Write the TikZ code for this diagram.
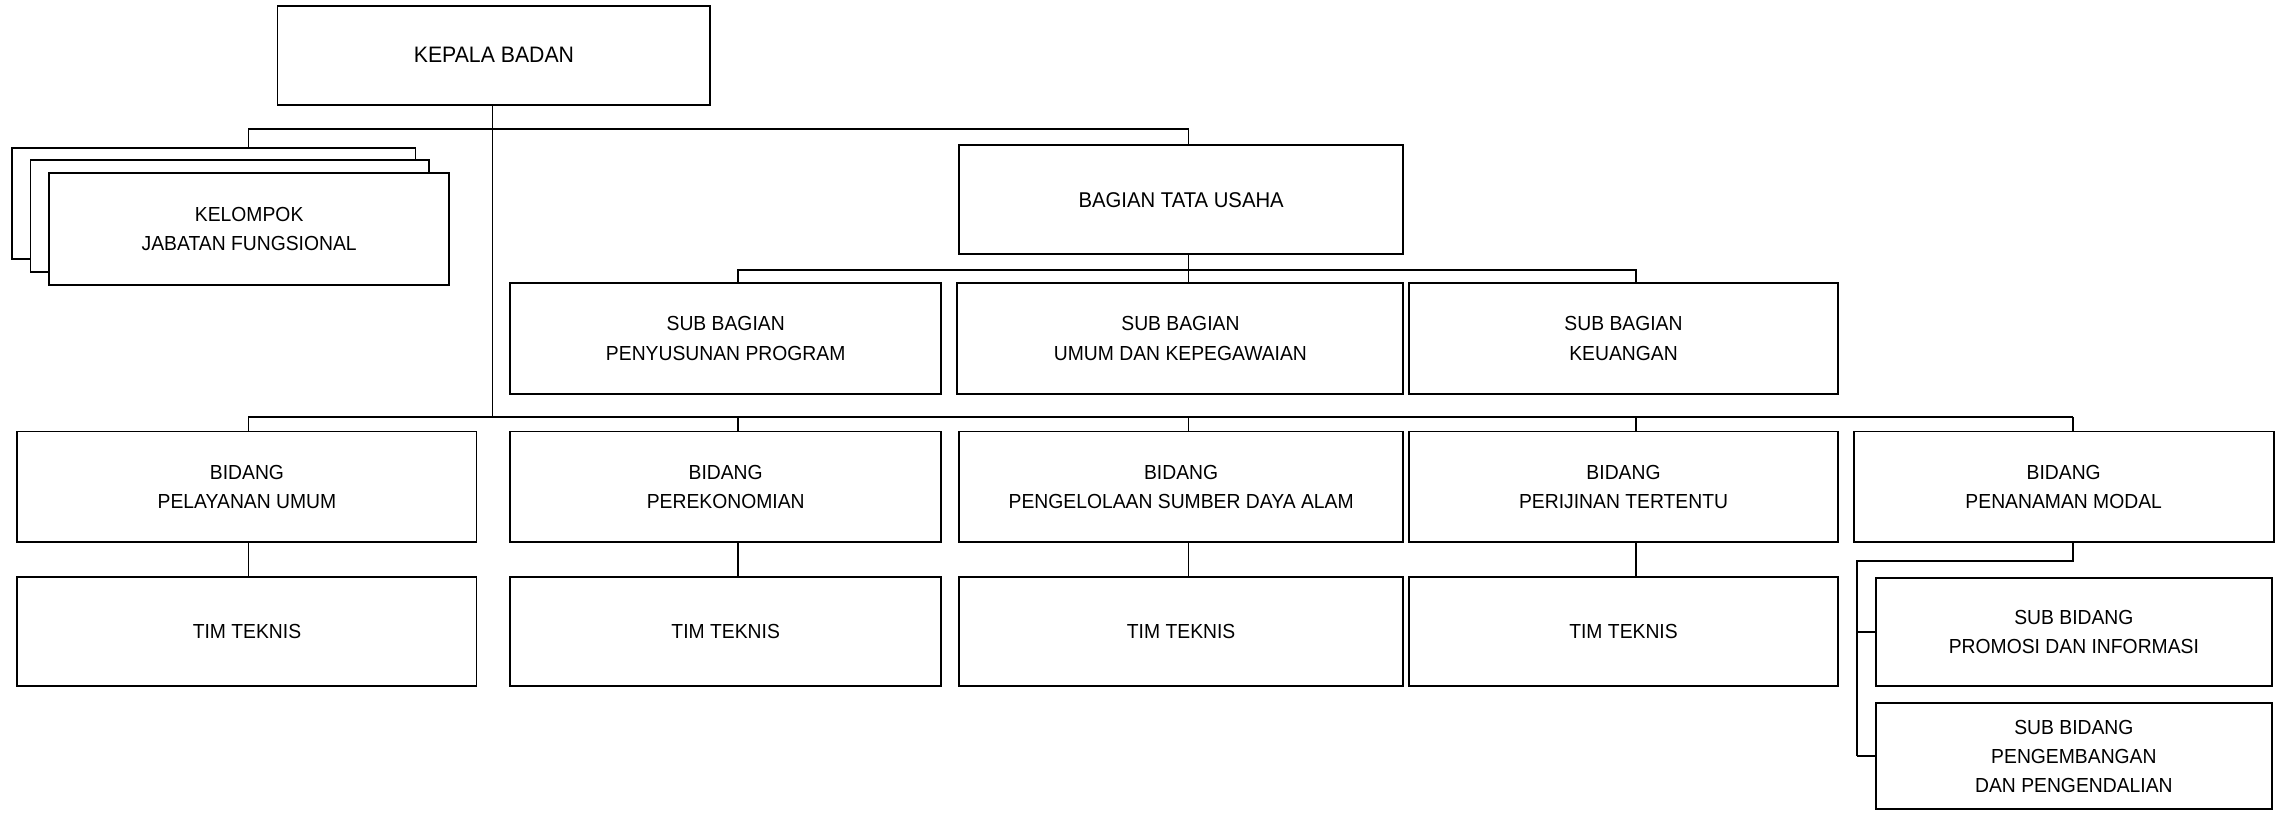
\documentclass[tikz,border=0pt]{standalone}
\usepackage{fontspec}
\setmainfont{Liberation Sans}[FakeStretch=0.95]
\begin{document}
\begin{tikzpicture}[x=1pt,y=-1pt,
  box/.style={draw, line width=1.3pt, fill=white, rectangle, inner sep=0pt, align=center,
    font=\fontsize{14}{20}\selectfont},
  conn/.style={line width=1.25pt}]
\useasboundingbox[fill=white] (0,0) rectangle (1568,559);

% top
\node[box, minimum width=298, minimum height=68, font=\fontsize{15.4}{20}\selectfont] (kepala) at (340,38) {KEPALA BADAN};

% kelompok jabatan fungsional (stacked)
\node[box, minimum width=278, minimum height=76] (kf1) at (147,140) {};
\node[box, minimum width=274, minimum height=77] (kf2) at (158,148.5) {};
\node[box, minimum width=275, minimum height=77] (kf3) at (171.5,157.5) {KELOMPOK\\JABATAN FUNGSIONAL};

% tata usaha
\node[box, minimum width=306, minimum height=75, font=\fontsize{14.7}{20}\selectfont] (tu) at (813,137.5) {BAGIAN TATA USAHA};

\node[box, minimum width=297, minimum height=76] (sb1) at (499.5,233) {SUB BAGIAN\\PENYUSUNAN PROGRAM};
\node[box, minimum width=307, minimum height=76] (sb2) at (812.5,233) {SUB BAGIAN\\UMUM DAN KEPEGAWAIAN};
\node[box, minimum width=295, minimum height=76] (sb3) at (1117.5,233) {SUB BAGIAN\\KEUANGAN};

% bidang
\node[box, minimum width=316, minimum height=76] (b1) at (170,335) {BIDANG\\PELAYANAN UMUM};
\node[box, minimum width=297, minimum height=76] (b2) at (499.5,335) {BIDANG\\PEREKONOMIAN};
\node[box, minimum width=306, minimum height=76] (b3) at (813,335) {BIDANG\\PENGELOLAAN SUMBER DAYA ALAM};
\node[box, minimum width=295, minimum height=76] (b4) at (1117.5,335) {BIDANG\\PERIJINAN TERTENTU};
\node[box, minimum width=289, minimum height=76] (b5) at (1420.5,335) {BIDANG\\PENANAMAN MODAL};

% tim teknis
\node[box, minimum width=316, minimum height=75] (t1) at (170,434.5) {TIM TEKNIS};
\node[box, minimum width=297, minimum height=75] (t2) at (499.5,434.5) {TIM TEKNIS};
\node[box, minimum width=306, minimum height=75] (t3) at (813,434.5) {TIM TEKNIS};
\node[box, minimum width=295, minimum height=75] (t4) at (1117.5,434.5) {TIM TEKNIS};

% sub bidang
\node[box, minimum width=273, minimum height=74] (sbp) at (1427.5,435) {SUB BIDANG\\PROMOSI DAN INFORMASI};
\node[box, minimum width=273, minimum height=73] (sbk) at (1427.5,520.5) {SUB BIDANG\\PENGEMBANGAN\\DAN PENGENDALIAN};

% junction coordinates
\coordinate (j1a) at (171,89);
\coordinate (j1b) at (818,89);
\coordinate (j2a) at (508,186);
\coordinate (j2b) at (818,186);
\coordinate (j2c) at (1126,186);
\coordinate (j3a) at (171,287);
\coordinate (j3b) at (508,287);
\coordinate (j3c) at (818,287);
\coordinate (j3d) at (1126,287);
\coordinate (j3e) at (1427,287);
\coordinate (j4a) at (1427,386);
\coordinate (j4b) at (1278,386);
\coordinate (jk) at (339,287);

% connectors
\draw[conn] (kepala.south -| jk) -- (jk);
\draw[conn] (kf1.north -| j1a) -- (j1a) -- (j1b) -- (tu.north -| j1b);
\draw[conn] (tu.south -| j2b) -- (j2b);
\draw[conn] (sb1.north -| j2a) -- (j2a) -- (j2c) -- (sb3.north -| j2c);
\draw[conn] (j2b) -- (sb2.north -| j2b);
\draw[conn] (j3a) -- (j3e);
\draw[conn] (j3a) -- (b1.north -| j3a);
\draw[conn] (j3b) -- (b2.north -| j3b);
\draw[conn] (j3c) -- (b3.north -| j3c);
\draw[conn] (j3d) -- (b4.north -| j3d);
\draw[conn] (j3e) -- (b5.north -| j3e);
\draw[conn] (b1.south -| j3a) -- (t1.north -| j3a);
\draw[conn] (b2.south -| j3b) -- (t2.north -| j3b);
\draw[conn] (b3.south -| j3c) -- (t3.north -| j3c);
\draw[conn] (b4.south -| j3d) -- (t4.north -| j3d);
\draw[conn] (b5.south -| j4a) -- (j4a) -- (j4b) -- (j4b |- sbk.west);
\draw[conn] (j4b |- sbp.west) -- (sbp.west);
\draw[conn] (j4b |- sbk.west) -- (sbk.west);
\end{tikzpicture}
\end{document}
